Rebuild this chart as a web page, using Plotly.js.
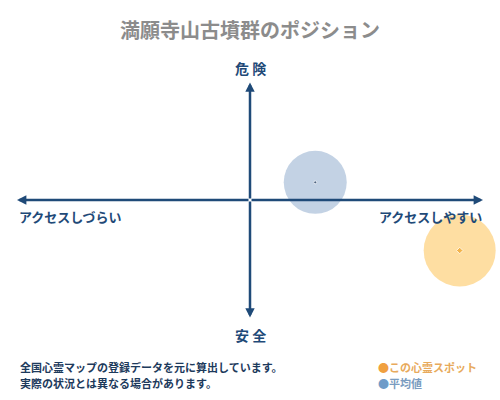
<!DOCTYPE html>
<html><head><meta charset="utf-8">
<script src="https://cdn.plot.ly/plotly-3.0.1.min.js"></script>
<style>html,body{margin:0;padding:0;background:#fff;}</style>
</head><body>
<div id="chart" style="width:500px;height:400px;"></div>
<script>
// Data
const titleText = "満願寺山古墳群のポジション";
const axisLabels = {top: "危 険", bottom: "安 全", left: "アクセスしづらい", right: "アクセスしやすい"};
const seriesNames = ["平均値", "この心霊スポット"];
const xValues = [2.8, 9.0];    // accessibility
const yValues = [1.5, -4.3];   // danger
const noteLines = ["全国心霊マップの登録データを元に算出しています。", "実際の状況とは異なる場合があります。"];

const FONT = '"Noto Sans CJK JP", "Noto Sans", sans-serif';
const NAVY = '#1f4a78';
const circleColors = ['#a9bfd9', '#fdd07b'];
const dotColors = ['#1d3557', '#f0a42a'];
const circleSizes = [63, 72];

const traces = [
  {x: xValues, y: yValues, mode: 'markers', type: 'scatter', hoverinfo: 'skip',
   marker: {size: circleSizes, color: circleColors, line: {width: 0}}, showlegend: false},
  {x: xValues, y: yValues, mode: 'markers', type: 'scatter', hoverinfo: 'skip',
   marker: {size: [3, 5], color: dotColors, symbol: ['circle', 'diamond']}, showlegend: false}
];

function arrow(x, y) {
  return {x: x, y: y, ax: 0, ay: 0, xref: 'x', yref: 'y', axref: 'x', ayref: 'y',
    text: '', showarrow: true, arrowhead: 2, arrowsize: 0.75, arrowwidth: 2.5, arrowcolor: NAVY};
}
const annotations = [
  arrow(10, 0), arrow(-10, 0), arrow(0, 10), arrow(0, -10),
  {xref: 'paper', yref: 'paper', x: 0.5, y: 1 - 30/400, text: '<b>' + titleText + '</b>', showarrow: false,
   font: {family: FONT, size: 20, color: '#8c8c8c'}, xanchor: 'center', yanchor: 'middle'},
  {xref: 'paper', yref: 'paper', x: 0.5, y: 1 - 68/400, text: '<b>' + axisLabels.top + '</b>', showarrow: false,
   font: {family: FONT, size: 14, color: NAVY}, xanchor: 'center', yanchor: 'middle'},
  {xref: 'paper', yref: 'paper', x: 0.5, y: 1 - 335/400, text: '<b>' + axisLabels.bottom + '</b>', showarrow: false,
   font: {family: FONT, size: 14, color: NAVY}, xanchor: 'center', yanchor: 'middle'},
  {xref: 'paper', yref: 'paper', x: 17/500, y: 1 - 216/400, text: '<b>' + axisLabels.left + '</b>', showarrow: false,
   font: {family: FONT, size: 13, color: NAVY}, xanchor: 'left', yanchor: 'middle'},
  {xref: 'paper', yref: 'paper', x: 484/500, y: 1 - 216/400, text: '<b>' + axisLabels.right + '</b>', showarrow: false,
   font: {family: FONT, size: 13, color: NAVY}, xanchor: 'right', yanchor: 'middle'},
  {xref: 'paper', yref: 'paper', x: 18/500, y: 1 - 367/400, text: '<b>' + noteLines[0] + '</b>', showarrow: false,
   font: {family: FONT, size: 11, color: '#1d3a5c'}, xanchor: 'left', yanchor: 'middle'},
  {xref: 'paper', yref: 'paper', x: 18/500, y: 1 - 383/400, text: '<b>' + noteLines[1] + '</b>', showarrow: false,
   font: {family: FONT, size: 11, color: '#1d3a5c'}, xanchor: 'left', yanchor: 'middle'},
  {xref: 'paper', yref: 'paper', x: 376/500, y: 1 - 367/400,
   text: '<span style="color:#f0a040">●</span><b>' + seriesNames[1] + '</b>', showarrow: false,
   font: {family: FONT, size: 11, color: '#e8aa5c'}, xanchor: 'left', yanchor: 'middle'},
  {xref: 'paper', yref: 'paper', x: 376/500, y: 1 - 383/400,
   text: '<span style="color:#6f9cc8">●</span><b>' + seriesNames[0] + '</b>', showarrow: false,
   font: {family: FONT, size: 11, color: '#7a9cc0'}, xanchor: 'left', yanchor: 'middle'}
];

const layout = {
  width: 500, height: 400,
  margin: {l: 0, r: 0, t: 0, b: 0},
  paper_bgcolor: '#ffffff', plot_bgcolor: '#ffffff',
  xaxis: {range: [-10.73, 10.73], visible: false, fixedrange: true},
  yaxis: {range: [-17.02, 17.02], visible: false, fixedrange: true},
  showlegend: false,
  annotations: annotations
};
Plotly.newPlot('chart', traces, layout, {staticPlot: true, displayModeBar: false});
</script>
</body></html>
